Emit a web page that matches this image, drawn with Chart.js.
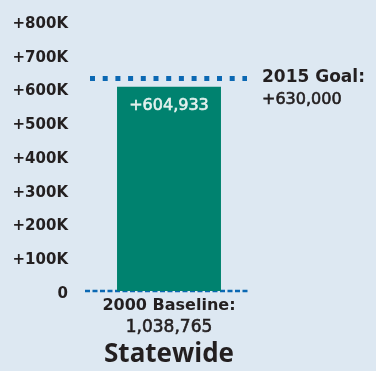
<!DOCTYPE html>
<html>
<head>
<meta charset="utf-8">
<script src="https://cdn.jsdelivr.net/npm/chart.js@4"></script>
<style>
  html, body { margin: 0; padding: 0; background: #dde8f2; }
  #wrap { width: 376px; height: 371px; }
</style>
</head>
<body>
<div id="wrap"><canvas id="c" width="376" height="371"></canvas></div>
<script>
// Job growth since 2000, statewide
const categories = ['Statewide'];
const growth = [604933];
const goalValue = 630000;
const baselineValue = 1038765;
const yMax = 800000;
const yStep = 100000;

const TEXT = '#231f20';
const TEAL = '#00826f';
const BLUE = '#0b68b3';

const fmt = n => n.toLocaleString('en-US');

// medium-weight text: regular glyphs with a hairline outline
function mediumText(ctx, str, x, y, color) {
  ctx.fillStyle = color;
  ctx.strokeStyle = color;
  ctx.lineWidth = 0.6;
  ctx.fillText(str, x, y);
  ctx.strokeText(str, x, y);
}

const annotations = {
  id: 'annotations',
  beforeDatasetsDraw(chart) {
    const { ctx, chartArea: a, scales: { y } } = chart;
    // baseline (zero) line, partly under the bar
    const zy = y.getPixelForValue(0);
    ctx.save();
    ctx.strokeStyle = BLUE;
    ctx.lineWidth = 2.5;
    ctx.setLineDash([5, 2.5]);
    ctx.beginPath();
    ctx.moveTo(a.left + 5, zy);
    ctx.lineTo(a.right - 8, zy);
    ctx.stroke();
    ctx.restore();
  },
  afterDatasetsDraw(chart) {
    const { ctx, chartArea: a, scales: { x, y } } = chart;
    const bar = chart.getDatasetMeta(0).data[0];
    ctx.save();

    // value label inside the bar
    ctx.font = '16px "DejaVu Sans"';
    ctx.textAlign = 'center';
    ctx.textBaseline = 'middle';
    mediumText(ctx, '+' + fmt(growth[0]), bar.x, bar.y + 19, '#e3f1ee');

    // goal line
    const gy = y.getPixelForValue(goalValue);
    ctx.strokeStyle = BLUE;
    ctx.lineWidth = 5;
    ctx.setLineDash([5, 7.7]);
    ctx.beginPath();
    ctx.moveTo(a.left + 10, gy);
    ctx.lineTo(a.right - 11, gy);
    ctx.stroke();
    ctx.setLineDash([]);

    // goal label
    ctx.fillStyle = TEXT;
    ctx.textAlign = 'left';
    ctx.textBaseline = 'middle';
    ctx.font = 'bold 17px "DejaVu Sans"';
    ctx.fillText('2015 Goal:', a.right + 4, gy - 1);
    ctx.font = '16px "DejaVu Sans"';
    mediumText(ctx, '+' + fmt(goalValue), a.right + 4, gy + 21, TEXT);

    // baseline label and category
    const zy = y.getPixelForValue(0);
    const cx = x.getPixelForValue(0);
    ctx.textAlign = 'center';
    ctx.fillStyle = TEXT;
    ctx.font = 'bold 16px "DejaVu Sans"';
    ctx.fillText('2000 Baseline:', cx, zy + 15);
    ctx.font = '17px "DejaVu Sans"';
    mediumText(ctx, fmt(baselineValue), cx, zy + 37, TEXT);
    ctx.fillStyle = TEXT;
    ctx.font = 'bold 26px "Open Sans"';
    ctx.fillText(categories[0], cx, zy + 64);
    ctx.restore();
  }
};

new Chart(document.getElementById('c'), {
  type: 'bar',
  data: {
    labels: categories,
    datasets: [{
      data: growth,
      backgroundColor: TEAL,
      borderWidth: 0,
      categoryPercentage: 1,
      barPercentage: 0.584
    }]
  },
  options: {
    responsive: false,
    animation: false,
    events: [],
    layout: { padding: { top: 21, bottom: 80, right: 118, left: 0 } },
    plugins: { legend: { display: false }, tooltip: { enabled: false } },
    scales: {
      x: { display: false },
      y: {
        min: 0, max: yMax,
        border: { display: false },
        grid: { display: false, drawTicks: false },
        afterFit(scale) { scale.width = 80; },
        ticks: {
          stepSize: yStep,
          padding: 12,
          labelOffset: 3,
          color: TEXT,
          font: { family: '"DejaVu Sans"', weight: 'bold', size: 15 },
          callback: v => v === 0 ? '0' : '+' + (v / 1000) + 'K'
        }
      }
    }
  },
  plugins: [annotations]
});
</script>
</body>
</html>
